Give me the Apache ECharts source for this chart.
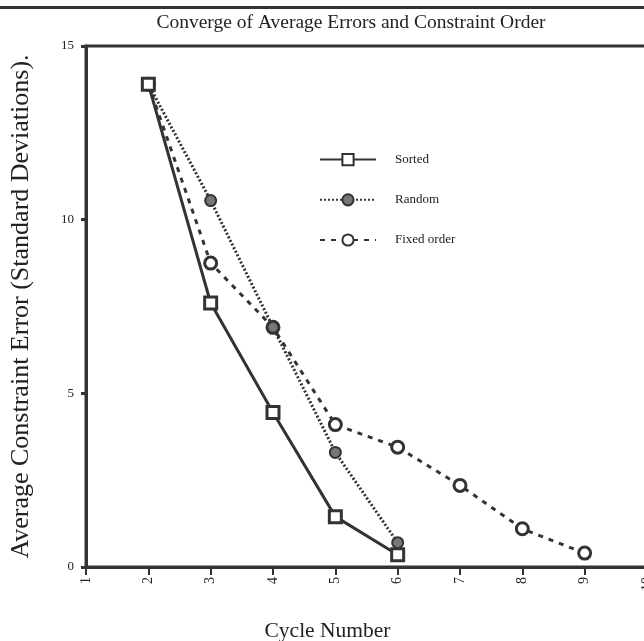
<!DOCTYPE html>
<html>
<head>
<meta charset="utf-8">
<script src="https://cdn.jsdelivr.net/npm/echarts@6/dist/echarts.min.js"></script>
<style>
  html, body { margin: 0; padding: 0; background: #fff; }
  #chart { width: 644px; height: 641px; }
</style>
</head>
<body>
<div id="chart"></div>
<script>
// values
const cycles = [2, 3, 4, 5, 6, 7, 8, 9];
const sorted = [13.9, 7.6, 4.45, 1.45, 0.35];
const random = [13.9, 10.55, 6.9, 3.3, 0.7];
const fixedOrder = [13.9, 8.75, 6.9, 4.1, 3.45, 2.35, 1.1, 0.4];
const seriesNames = ['Sorted', 'Random', 'Fixed order'];

const ink = '#333';
const serif = 'Liberation Serif';

function pairs(vals) {
  return vals.map((v, i) => [cycles[i], v]);
}

const myChart = echarts.init(document.getElementById('chart'));
const option = {
  animation: false,
  title: {
    text: 'Converge of Average Errors and Constraint Order',
    left: 346,
    textAlign: 'center',
    top: 8,
    textStyle: { fontFamily: serif, fontSize: 19.5, fontWeight: 'normal', color: '#222' }
  },
  graphic: [
    {
      type: 'rect',
      shape: { x: 0, y: 6, width: 644, height: 3 },
      style: { fill: ink }
    }
  ],
  legend: {
    orient: 'vertical',
    left: 314,
    top: 148,
    itemWidth: 56,
    itemHeight: 14,
    itemGap: 27,
    data: seriesNames,
    textStyle: { fontFamily: serif, fontSize: 13, color: '#222', padding: [0, 0, 0, 14] }
  },
  grid: {
    left: 86,
    right: -3,
    top: 46,
    bottom: 74,
    outerBoundsMode: 'none',
    containLabel: false,
    show: true,
    borderColor: ink,
    borderWidth: 3
  },
  xAxis: {
    type: 'value',
    min: 1,
    max: 10,
    interval: 1,
    name: 'Cycle Number',
    nameLocation: 'middle',
    nameGap: 53,
    nameTextStyle: { fontFamily: serif, fontSize: 21.5, color: '#222', padding: [0, 78, 0, 0] },
    axisLine: { lineStyle: { color: ink, width: 3 } },
    axisTick: { length: 8, lineStyle: { color: ink, width: 2 } },
    axisLabel: { rotate: 90, margin: 10, fontFamily: serif, fontSize: 14, color: '#222', showMaxLabel: true },
    splitLine: { show: false }
  },
  yAxis: {
    type: 'value',
    min: 0,
    max: 15,
    interval: 5,
    name: 'Average Constraint Error (Standard Deviations).',
    nameLocation: 'middle',
    nameGap: 52,
    nameTextStyle: { fontFamily: serif, fontSize: 26, color: '#222' },
    axisLine: { lineStyle: { color: ink, width: 3 } },
    axisTick: { length: 5, lineStyle: { color: ink, width: 3 } },
    axisLabel: { margin: 12, fontFamily: serif, fontSize: 13, color: '#222' },
    splitLine: { show: false }
  },
  series: [
    {
      name: 'Sorted',
      type: 'line',
      data: pairs(sorted),
      symbol: 'rect',
      symbolSize: 12,
      lineStyle: { color: ink, width: 3, type: 'solid' },
      itemStyle: { color: '#fff', borderColor: ink, borderWidth: 3 },
      z: 4
    },
    {
      name: 'Random',
      type: 'line',
      data: pairs(random),
      symbol: 'circle',
      symbolSize: 11,
      lineStyle: { color: ink, width: 3, type: [2, 2] },
      itemStyle: { color: '#777', borderColor: ink, borderWidth: 2 },
      z: 3
    },
    {
      name: 'Fixed order',
      type: 'line',
      data: pairs(fixedOrder),
      symbol: 'circle',
      symbolSize: 12,
      lineStyle: { color: ink, width: 3, type: [5, 6] },
      itemStyle: { color: '#fff', borderColor: ink, borderWidth: 3 },
      z: 2
    }
  ]
};
myChart.setOption(option);
window.onresize = myChart.resize;
</script>
</body>
</html>
